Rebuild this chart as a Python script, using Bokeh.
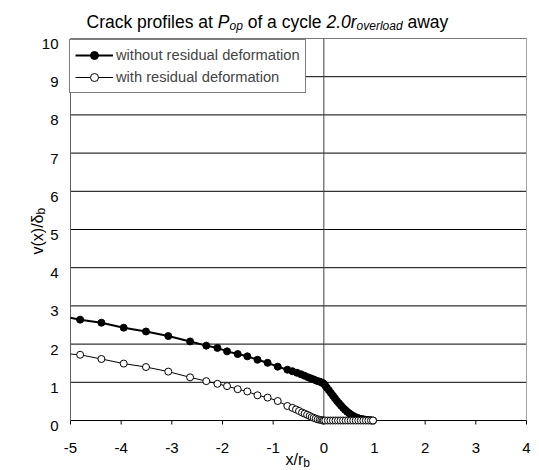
import math
from bokeh.plotting import figure
from bokeh.models import Range1d, Legend, LegendItem
from bokeh.core.properties import value
from bokeh.embed import file_html
from bokeh.resources import INLINE

# ---------------- data ----------------
x_ticks = [-5, -4, -3, -2, -1, 0, 1, 2, 3, 4]
y_ticks = [0, 1, 2, 3, 4, 5, 6, 7, 8, 9, 10]
x_tick_labels = [str(t) for t in x_ticks]
y_tick_labels = [str(t) for t in y_ticks]

series_names = ["without residual deformation", "with residual deformation"]

# first value of each series = where the curve enters at the left edge (no marker there)
without_x = [-5.00, -4.81, -4.39, -3.95, -3.51, -3.07, -2.64, -2.32, -2.10, -1.91,
             -1.70, -1.51, -1.31, -1.11, -0.91, -0.72, -0.62, -0.53, -0.45, -0.38,
             -0.31, -0.25, -0.19, -0.14, -0.09, -0.05, -0.02, 0.00, 0.03, 0.06,
             0.10, 0.14, 0.18, 0.22, 0.26, 0.30, 0.34, 0.38, 0.42, 0.46,
             0.50, 0.54, 0.58, 0.62, 0.66, 0.70, 0.74, 0.78, 0.82, 0.86,
             0.90, 0.94, 0.97]
without_y = [2.69, 2.64, 2.56, 2.43, 2.33, 2.21, 2.07, 1.96, 1.90, 1.81,
             1.74, 1.68, 1.59, 1.51, 1.41, 1.33, 1.29, 1.25, 1.21, 1.17,
             1.13, 1.10, 1.07, 1.04, 1.02, 1.00, 0.98, 0.96, 0.91, 0.86,
             0.79, 0.72, 0.65, 0.58, 0.51, 0.45, 0.39, 0.33, 0.28, 0.23,
             0.19, 0.15, 0.12, 0.09, 0.07, 0.05, 0.04, 0.03, 0.02, 0.01,
             0.01, 0.00, 0.00]

with_x = [-5.00, -4.81, -4.39, -3.95, -3.51, -3.07, -2.64, -2.32, -2.10, -1.91,
          -1.70, -1.51, -1.31, -1.11, -0.91, -0.72, -0.62, -0.55, -0.49, -0.43,
          -0.38, -0.33, -0.28, -0.24, -0.20, -0.16, -0.12, -0.08, -0.05, -0.02,
          0.00, 0.03, 0.08, 0.13, 0.18, 0.23, 0.28, 0.33, 0.38, 0.43,
          0.48, 0.53, 0.58, 0.63, 0.68, 0.73, 0.78, 0.83, 0.88, 0.93,
          0.97]
with_y = [1.74, 1.72, 1.61, 1.49, 1.40, 1.28, 1.13, 1.03, 0.96, 0.90,
          0.82, 0.76, 0.66, 0.60, 0.51, 0.38, 0.33, 0.29, 0.25, 0.21,
          0.18, 0.15, 0.12, 0.09, 0.07, 0.05, 0.03, 0.02, 0.01, 0.00,
          0.00, 0.00, 0.00, 0.00, 0.00, 0.00, 0.00, 0.00, 0.00, 0.00,
          0.00, 0.00, 0.00, 0.00, 0.00, 0.00, 0.00, 0.00, 0.00, 0.00,
          0.00]

# ---------------- layout ----------------
FONT = "Liberation Sans"
W, H = 539, 470
FL, FR, FT, FB = 70, 526, 38, 420          # plot-area edges in pixels
X0, X1, Y0, Y1 = -5, 4, 0, 10
PPX = (FR - FL) / (X1 - X0)
PPY = (FB - FT) / (Y1 - Y0)

ARIAL = {' ': 278, 'C': 722, 'r': 333, 'a': 556, 'c': 500, 'k': 500, 'p': 556,
         'o': 556, 'f': 278, 'i': 222, 'l': 222, 'e': 556, 's': 500, 't': 278,
         'P': 667, 'y': 500, '2': 556, '.': 278, '0': 556, 'v': 500, 'd': 556,
         'w': 722, 'x': 500, '(': 333, ')': 333, '/': 278, 'δ': 556, 'b': 556}


def tw(s, size):
    return sum(ARIAL.get(c, 556) for c in s) * size / 1000.0


def dx(px):
    return X0 + (px - FL) / PPX


def dy(py):
    return Y1 - (py - FT) / PPY


p = figure(width=W, height=H,
           x_range=Range1d(dx(0), dx(W)), y_range=Range1d(dy(H), dy(0)),
           output_backend="svg", toolbar_location=None,
           x_axis_location=None, y_axis_location=None,
           min_border=0, min_border_left=0, min_border_right=0,
           min_border_top=0, min_border_bottom=0)
p.background_fill_color = "white"
p.border_fill_color = "white"
p.outline_line_color = None
p.grid.visible = False

# ---- plot area: gridlines, border, axes ----
inner = [t for t in y_ticks if Y0 <= t < Y1]
p.segment(x0=[X0] * len(inner), x1=[X1] * len(inner), y0=inner, y1=inner,
          line_color="black", line_width=1)
p.segment(x0=[X0], x1=[X1], y0=[Y1], y1=[Y1], line_color="#7a7a7a", line_width=1)
p.segment(x0=[X1], x1=[X1], y0=[Y0], y1=[Y1], line_color="#a0a0a0", line_width=1)
p.segment(x0=[X0], x1=[X0], y0=[Y0], y1=[Y1], line_color="#606060", line_width=1)
p.segment(x0=[0], x1=[0], y0=[Y0], y1=[Y1], line_color="#404040", line_width=1)
# x ticks (outside)
p.segment(x0=x_ticks, x1=x_ticks, y0=[Y0] * len(x_ticks), y1=[dy(FB + 4)] * len(x_ticks),
          line_color="black", line_width=1)

TICK_FS = 15
p.text(x=x_ticks, y=[dy(447.5)] * len(x_ticks), text=x_tick_labels,
       text_font=value(FONT), text_font_size=value(f"{TICK_FS}px"),
       text_color="black", text_align="center", text_baseline="alphabetic")
p.text(x=[dx(58)] * len(y_ticks), y=[t - 0.36 * TICK_FS / PPY for t in y_ticks],
       text=y_tick_labels,
       text_font=value(FONT), text_font_size=value(f"{TICK_FS}px"),
       text_color="black", text_align="right", text_baseline="alphabetic")

# ---- series ----
l1 = p.line(without_x, without_y, line_color="black", line_width=2)
s1 = p.scatter(without_x[1:], without_y[1:], marker="circle", size=7,
               fill_color="black", line_color="black")
l2 = p.line(with_x, with_y, line_color="black", line_width=1)
s2 = p.scatter(with_x[1:], with_y[1:], marker="circle", size=7,
               fill_color="white", line_color="black", line_width=1)

# ---- legend ----
LEG_PAD, LEG_ROW, LEG_SP = 5, 20, 2
leg_h = 2 * LEG_PAD + 2 * LEG_ROW + LEG_SP
legend = Legend(items=[LegendItem(label=series_names[0], renderers=[l1, s1]),
                       LegendItem(label=series_names[1], renderers=[l2, s2])],
                location=(69, H - 41 - leg_h))
legend.border_line_color = "black"
legend.border_line_width = 1
legend.background_fill_color = "white"
legend.background_fill_alpha = 1
legend.label_text_font = FONT
legend.label_text_font_size = "14.7px"
legend.glyph_width = 38
legend.glyph_height = LEG_ROW
legend.label_height = LEG_ROW
legend.label_standoff = 3
legend.padding = LEG_PAD
legend.spacing = LEG_SP
legend.margin = 0
p.add_layout(legend)


# ---- texts outside the plot area ----
def put(x, y, text, size, style="normal", angle=0.0):
    p.text(x=[x], y=[y], text=[text], angle=angle,
           text_font=value(FONT), text_font_size=value(f"{size}px"),
           text_font_style=style, text_color="black",
           text_align="left", text_baseline="alphabetic")


def add_run(pieces, x_px, base_px):
    cur = x_px
    for text, size, style, drop in pieces:
        lead = len(text) - len(text.lstrip(" "))
        put(dx(cur + tw(" " * lead, size)), dy(base_px + drop), text.strip(), size, style)
        cur += tw(text, size)


TS, SS = 17.5, 12
add_run([("Crack profiles at ", TS, "normal", 0),
         ("P", TS, "italic", 0),
         ("op", SS, "italic", 4),
         (" of a cycle ", TS, "normal", 0),
         ("2.0r", TS, "italic", 0),
         ("overload", SS, "italic", 4),
         (" away", TS, "normal", 0)], 86, 21.5)

add_run([("x/r", 16, "normal", 0), ("b", 12, "normal", 3)], 285, 459)

YS = 16
y_start = 254
put(dx(37), dy(y_start), "v(x)/δ", YS, angle=math.pi / 2)
put(dx(40), dy(y_start - tw("v(x)/δ", YS)), "b", 12, angle=math.pi / 2)

open("out.html", "w").write(file_html(p, INLINE))
